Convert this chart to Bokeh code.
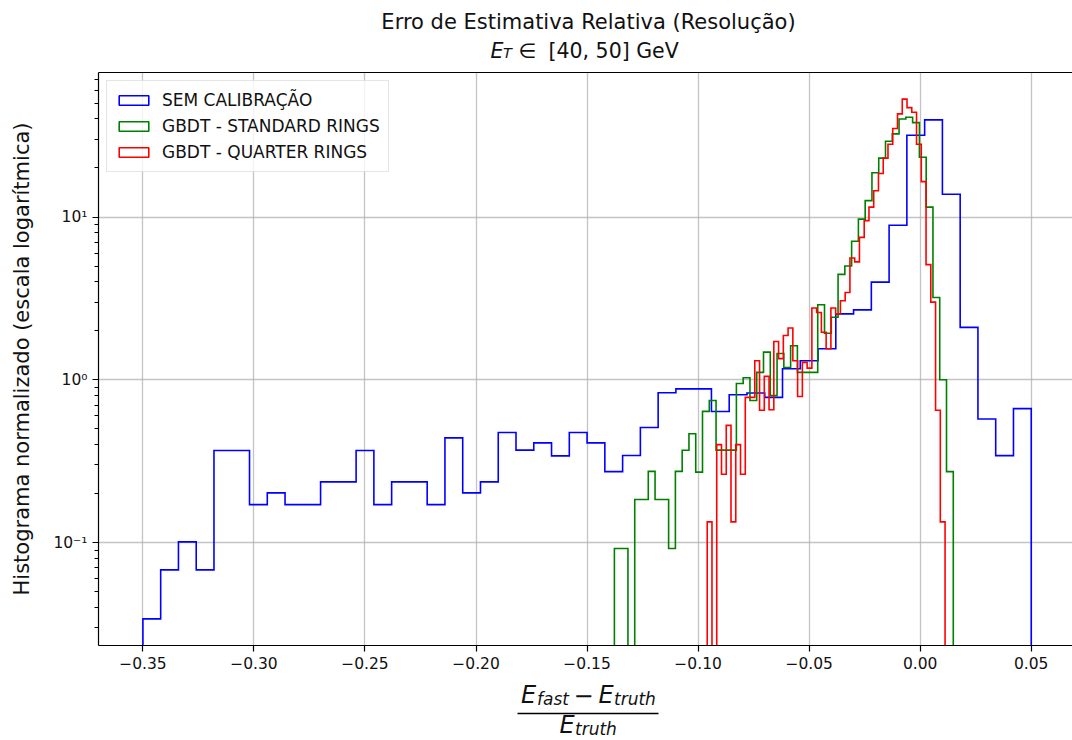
import math
import numpy as np
from bokeh.plotting import figure
from bokeh.layouts import column
from bokeh.models import (Range1d, FixedTicker, CustomJSTickFormatter, Label,
                          LinearAxis, Legend, LegendItem)
from bokeh.embed import file_html
from bokeh.resources import INLINE

# ---------------- data ----------------
bin_count = 50
sem_calibracao_range = (-0.35, 0.05)
gbdt_standard_range = (-0.1377, 0.0149)
gbdt_quarter_range = (-0.0959, 0.0112)

sem_calibracao = [0.034, 0.068, 0.101, 0.068, 0.368, 0.368, 0.171, 0.202, 0.171, 0.171,
                  0.236, 0.236, 0.368, 0.171, 0.236, 0.236, 0.171, 0.44, 0.202, 0.236,
                  0.475, 0.37, 0.41, 0.341, 0.475, 0.41, 0.273, 0.343, 0.509, 0.832,
                  0.88, 0.88, 0.638, 0.81, 0.83, 0.78, 1.17, 1.31, 1.55, 2.54,
                  2.69, 3.98, 8.9, 31.8, 39.5, 13.8, 2.1, 0.574, 0.342, 0.665]

gbdt_standard = [0.092, 0.092, 0, 0.184, 0.184, 0.274, 0.184, 0.184, 0.092, 0.274,
                 0.369, 0.466, 0.271, 0.64, 0.746, 0.37, 0.37, 0.37, 0.95, 1.03,
                 0.746, 1.11, 1.48, 0.8, 1.45, 1.19, 1.62, 1.11, 1.11, 1.11,
                 2.89, 1.93, 2.42, 4.44, 5.0, 7.1, 9.7, 12.6, 18.7, 23.0,
                 29.2, 32.4, 40.0, 41.0, 38.0, 23.3, 11.5, 3.2, 1.0, 0.273]

gbdt_quarter = [0.134, 0, 0.40, 0.263, 0.525, 0.134, 0.40, 0.263, 0.78, 0.78,
                1.31, 0.65, 1.05, 0.655, 1.72, 1.35, 1.87, 2.08, 1.31, 0.79,
                1.28, 1.18, 2.76, 2.59, 1.96, 1.55, 2.76, 2.54, 3.06, 3.44,
                5.6, 5.3, 7.5, 9.5, 11.5, 14.5, 18.5, 23.0, 28.0, 35.0,
                43.0, 53.0, 47.0, 44.0, 28.0, 16.5, 5.1, 3.0, 0.65, 0.134]

series_labels = ["SEM CALIBRAÇÃO", "GBDT - STANDARD RINGS", "GBDT - QUARTER RINGS"]
series_colors = ["#0000ff", "#008000", "#ff0000"]
x_ticks = [-0.35, -0.30, -0.25, -0.20, -0.15, -0.10, -0.05, 0.00, 0.05]
y_ticks = [0.1, 1, 10]

title_text = "Erro de Estimativa Relativa (Resolução)"
y_label_text = "Histograma normalizado (escala logarítmica)"

# ---------------- layout ----------------
W, H = 1072, 740
TITLE_H = 62                 # title strip height
FL, FW, FH = 98, 974, 573    # frame left, width, height
FR = W - FL - FW
MAIN_TOP, MAIN_BOT = 10, 32  # borders of the main figure
MAIN_H = MAIN_TOP + FH + MAIN_BOT
XLAB_TOP = TITLE_H + MAIN_H  # y pixel where the x-label strip starts
XLAB_H = H - XLAB_TOP
BASE_SHIFT = 9               # rendered text sits this much below the anchor

X_LO = -0.37
X_HI = X_LO + FW / 2220.8
Y_LO, Y_HI = 0.02333, 77.2

FONT = "DejaVu Sans"
TXT = "#111111"


def strip(height):
    # a text-only strip whose frame spans the same columns as the main frame;
    # its ranges are in page pixels so texts can be placed like in the reference
    f = figure(width=W, height=height, x_range=Range1d(FL, FL + FW), y_range=Range1d(height, 0),
               x_axis_location=None, y_axis_location=None, title_location=None,
               min_border_left=FL, min_border_right=FR, min_border_top=0, min_border_bottom=0,
               output_backend="svg", toolbar_location=None)
    f.outline_line_color = None
    f.grid.visible = False
    f.background_fill_color = "white"
    f.border_fill_color = "white"
    return f


def lbl(f, px, py, text, size, style="normal", align="left"):
    f.add_layout(Label(x=px, y=py - BASE_SHIFT, text=text, text_font=FONT, text_font_size=size,
                       text_font_style=style, text_color=TXT, text_align=align,
                       text_baseline="alphabetic"))


# ---- title strip ----
tf = strip(TITLE_H)
lbl(tf, 588, 30, title_text, "21px", align="center")
lbl(tf, 490, 59, "E", "20.5px", style="italic")
lbl(tf, 502.5, 61.5, "T", "14.5px", style="italic")
lbl(tf, 518, 59, "\u2208", "20.5px")
lbl(tf, 548, 59, "[40, 50] GeV", "20.5px")

# ---- main plot ----
p = figure(width=W, height=MAIN_H, y_axis_type="log",
           x_range=Range1d(X_LO, X_HI), y_range=Range1d(Y_LO, Y_HI),
           output_backend="svg", toolbar_location=None, title_location=None,
           min_border_left=FL, min_border_right=FR,
           min_border_top=MAIN_TOP, min_border_bottom=MAIN_BOT)
p.outline_line_color = None
p.background_fill_color = "white"
p.border_fill_color = "white"

for g in (p.xgrid[0], p.ygrid[0]):
    g.grid_line_color = "#b0b0b0"
    g.grid_line_width = 1.3
    g.grid_line_alpha = 0.75

xa = p.xaxis[0]
xa.ticker = FixedTicker(ticks=x_ticks)
xa.formatter = CustomJSTickFormatter(code="""
    if (Math.abs(tick) < 1e-9) return "0.00";
    return tick.toFixed(2).replace("-", "\\u2212");
""")
xa.major_tick_in = 0
xa.major_tick_out = 6
xa.minor_tick_line_color = None
xa.axis_line_color = "black"
xa.axis_line_width = 1.2
xa.major_tick_line_width = 1.2
xa.major_label_text_font = FONT
xa.major_label_text_font_size = "15.5px"
xa.major_label_text_color = TXT
xa.major_label_standoff = 5

minor = [k * 10.0 ** e for e in range(-2, 2) for k in range(2, 10) if Y_LO <= k * 10.0 ** e <= Y_HI]
ya = p.yaxis[0]
ya.ticker = FixedTicker(ticks=y_ticks, minor_ticks=minor)
ya.formatter = CustomJSTickFormatter(code="""
    const e = Math.round(Math.log10(tick));
    const sup = {"-": "\\u207b", "0": "\\u2070", "1": "\\u00b9", "2": "\\u00b2", "3": "\\u00b3"};
    return "10" + String(e).split("").map(c => sup[c]).join("");
""")
ya.major_tick_in = 0
ya.major_tick_out = 6
ya.minor_tick_in = 0
ya.minor_tick_out = 4
ya.axis_line_color = "black"
ya.axis_line_width = 1.2
ya.major_tick_line_width = 1.2
ya.minor_tick_line_width = 1.0
ya.major_label_text_font = FONT
ya.major_label_text_font_size = "15.5px"
ya.major_label_text_color = TXT
ya.major_label_standoff = 5
ya.axis_label = y_label_text
ya.axis_label_text_font = FONT
ya.axis_label_text_font_size = "21px"
ya.axis_label_text_font_style = "normal"
ya.axis_label_text_color = TXT
ya.axis_label_standoff = 16

top = LinearAxis(ticker=FixedTicker(ticks=[]), major_label_text_font_size="0px",
                 major_tick_line_color=None, minor_tick_line_color=None,
                 major_tick_out=0, minor_tick_out=0, major_label_standoff=0,
                 axis_line_color="black", axis_line_width=1.2)
p.add_layout(top, "above")

FLOOR = 1e-4
legend_items = []
for vals, rng, color, lab in zip([sem_calibracao, gbdt_standard, gbdt_quarter],
                                 [sem_calibracao_range, gbdt_standard_range, gbdt_quarter_range],
                                 series_colors, series_labels):
    edges = np.linspace(rng[0], rng[1], bin_count + 1)
    v = np.asarray(vals, dtype=float)
    v = np.where(v > 0, v, FLOOR)
    xs = np.repeat(edges, 2)
    ys = np.concatenate([[FLOOR], np.repeat(v, 2), [FLOOR]])
    p.line(xs, ys, line_color=color, line_width=1.6, line_join="miter")
    # zero-size swatch (below the visible range) used only for the legend box
    r = p.quad(left=[edges[0]], right=[edges[0]], top=[FLOOR], bottom=[FLOOR],
               fill_color=None, line_color=color, line_width=1.6)
    legend_items.append(LegendItem(label=lab, renderers=[r], index=0))

legend = Legend(items=legend_items, location="top_left", margin=8, padding=8,
                spacing=4, label_height=22, glyph_height=12, glyph_width=37,
                label_standoff=10, label_text_font=FONT, label_text_font_size="17px",
                label_text_color=TXT, border_line_color="#cccccc", border_line_width=1,
                background_fill_color="white", background_fill_alpha=0.8)
p.add_layout(legend)

# ---- x label strip: (E_fast - E_truth) / E_truth ----
xf = strip(XLAB_H)
o = XLAB_TOP
lbl(xf, 520.5, 703 - o, "E", "24px", style="italic")
lbl(xf, 536.5, 707.5 - o, "fast", "17px", style="italic")
lbl(xf, 573, 703 - o, "\u2212", "24px")
lbl(xf, 598, 703 - o, "E", "24px", style="italic")
lbl(xf, 613.5, 707.5 - o, "truth", "17px", style="italic")
xf.segment(x0=[517], y0=[713 - o], x1=[658], y1=[713 - o], line_color="black", line_width=1.5)
lbl(xf, 559, 733.5 - o, "E", "24px", style="italic")
lbl(xf, 574.5, 737.5 - o, "truth", "17px", style="italic")

layout = column(tf, p, xf, spacing=0)
open("out.html", "w").write(file_html(layout, INLINE))
